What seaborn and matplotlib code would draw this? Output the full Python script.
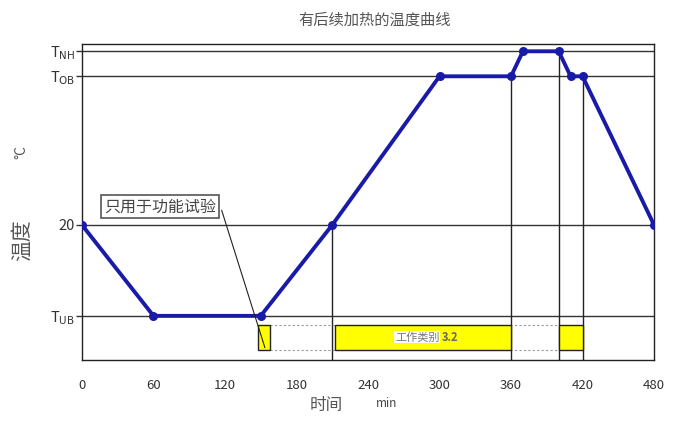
import numpy as np
import pandas as pd
import matplotlib
matplotlib.use("Agg")
import matplotlib.pyplot as plt
import seaborn as sns

# temperature levels (arbitrary scale, 20 °C is the reference)
T_UB, T_20, T_OB, T_NH = 0.0, 20.0, 52.7, 58.2

time_min = [0, 60, 150, 210, 300, 360, 370, 400, 410, 420, 480]
temp = [T_20, T_UB, T_UB, T_20, T_OB, T_OB, T_NH, T_NH, T_OB, T_OB, T_20]

ytick_vals = [T_UB, T_20, T_OB, T_NH]
ytick_labels = [r"T$_{\mathrm{UB}}$", "20", r"T$_{\mathrm{OB}}$", r"T$_{\mathrm{NH}}$"]
xtick_vals = [0, 60, 120, 180, 240, 300, 360, 420, 480]

# working-category bars (start, end)
bars = [(148, 158), (212, 360), (400, 420)]
bar_low, bar_high = -7.5, -2.0
# vertical guide lines (time, top level)
guides = [(210, T_20), (360, T_OB), (400, T_NH), (420, T_OB)]

df = pd.DataFrame({"time": time_min, "temp": temp})

sns.set_style("white")
plt.rcParams["font.family"] = ["Noto Sans CJK SC", "DejaVu Sans"]
plt.rcParams["mathtext.fontset"] = "dejavusans"

fig = plt.figure(figsize=(6.82, 4.22), dpi=100)
ax = fig.add_axes([0.1202, 0.147, 0.8388, 0.7487])

for lv in ytick_vals:
    ax.axhline(lv, color="#333333", lw=1.0, zorder=1)

for t, top in guides:
    ax.plot([t, t], [-9.7, top], color="#222222", lw=1.0, zorder=1)

# dashed outline joining the bars
ax.plot([158, 400], [bar_high, bar_high], color="#999999", lw=0.8, ls=(0, (2, 2)), zorder=1)
ax.plot([158, 400], [bar_low, bar_low], color="#999999", lw=0.8, ls=(0, (2, 2)), zorder=1)
for x0, x1 in bars:
    ax.bar(x0, bar_high - bar_low, width=x1 - x0, bottom=bar_low, align="edge",
           color="#ffff00", edgecolor="#222222", lw=1.0, zorder=2)

ax.text(300, (bar_low + bar_high) / 2, "工作类别", ha="right", va="center",
        fontsize=8, color="#777777", zorder=3,
        bbox=dict(facecolor="white", edgecolor="none", pad=0.5))
ax.text(302, (bar_low + bar_high) / 2, "3.2", ha="left", va="center",
        fontsize=8, color="#666666", fontweight="bold", zorder=3)

sns.lineplot(data=df, x="time", y="temp", ax=ax, color="#1a1aa8", lw=2.8,
             marker="o", markersize=6.5, markeredgewidth=0, zorder=4)

ax.annotate("只用于功能试验", xy=(153.5, -7.0), xytext=(65.5, 24.0),
            ha="center", va="center", fontsize=11.5, color="#444444",
            bbox=dict(boxstyle="square,pad=0.2", facecolor="white", edgecolor="#555555", lw=1.2),
            arrowprops=dict(arrowstyle="-", color="#222222", lw=0.8, shrinkA=0, shrinkB=0,
                            relpos=(1.05, 0.3)),
            zorder=5)

ax.set_xlim(0, 480)
ax.set_ylim(-9.7, 59.8)
ax.set_xticks(xtick_vals)
ax.set_xticklabels([str(v) for v in xtick_vals], fontsize=9.5, color="#333333")
ax.set_yticks(ytick_vals)
ax.set_yticklabels(ytick_labels, fontsize=10.5, color="#333333")
ax.tick_params(axis="x", length=0, pad=14)
ax.tick_params(axis="y", length=4, width=1, color="#333333", pad=1, left=True)
ax.set_xlabel("")
ax.set_ylabel("")
for s in ax.spines.values():
    s.set_color("#222222")
    s.set_linewidth(1.0)

fig.text(0.55, 0.952, "有后续加热的温度曲线", ha="center", va="center", fontsize=11, color="#555555")
fig.text(0.032, 0.64, "°C", ha="center", va="center", fontsize=10, color="#555555", rotation=90)
fig.text(0.032, 0.43, "温度", ha="center", va="center", fontsize=15, color="#555555", rotation=90)
fig.text(0.478, 0.04, "时间", ha="center", va="center", fontsize=12, color="#555555")
fig.text(0.567, 0.045, "min", ha="center", va="center", fontsize=8.5, color="#444444")

fig.savefig("out.png", dpi=100)
